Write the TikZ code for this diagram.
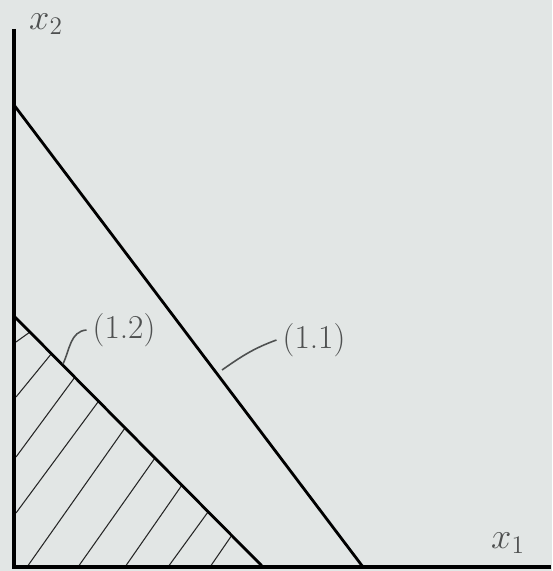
\documentclass[tikz,border=0pt]{standalone}
\usepackage{tikz}
\usetikzlibrary{calc}
\definecolor{paper}{RGB}{226,230,229}
\definecolor{pencil}{RGB}{78,80,80}

\begin{document}
\begin{tikzpicture}[x=0.2mm,y=-0.2mm,
    axis/.style={line width=2.1pt},
    bound/.style={line width=1.6pt},
    hatch/.style={line width=0.6pt,black!85},
    lbl/.style={text=pencil,font=\fontsize{19}{22}\selectfont},
    axlbl/.style={text=pencil,font=\fontsize{22}{26}\selectfont},
    leader/.style={line width=0.9pt,pencil}]
                      \fill[paper] (0,0) rectangle (552,571);
                      \useasboundingbox (0,0) rectangle (552,571);
                      \coordinate (O) at (14,567);
                      \coordinate (Ytop) at (14,29);
                      \coordinate (Xend) at (551,567);
                      \coordinate (A1) at (14,105);
                      \coordinate (B1) at (363,567);
                      \coordinate (A2) at (14,316);
                      \coordinate (B2) at (263,567);
                      \coordinate (P12) at (63,364);
                      \coordinate (P11) at (222,370);
                      \node[axlbl] (X2) at (46,24) {$x_2$};
                      \node[axlbl] (X1) at (508,543) {$x_1$};
                      \node[lbl] (L12) at (124,330) {(1.2)};
                      \node[lbl] (L11) at (314,340) {(1.1)};
                      % shaded region
                      \foreach \a/\b/\c/\d in {16/342/30/332,16/397/52/353,16/457/75/377,16/513/98/402,
                        27/567/125/428,78/567/155/458,125/567/182/485,168/567/208/512,210/567/232/535}
                        \draw[hatch] (\a,\b) -- (\c,\d);
                      \draw[bound] (A1) -- (B1);
                      \draw[bound] (A2) -- (B2);
                      \draw[axis] (Ytop) -- (O) -- (Xend);
                      \draw[leader] (L12.west) to[out=185,in=65] (P12);
                      \draw[leader] (L11.west) to[out=200,in=35] (P11);
                    \end{tikzpicture}
\end{document}
